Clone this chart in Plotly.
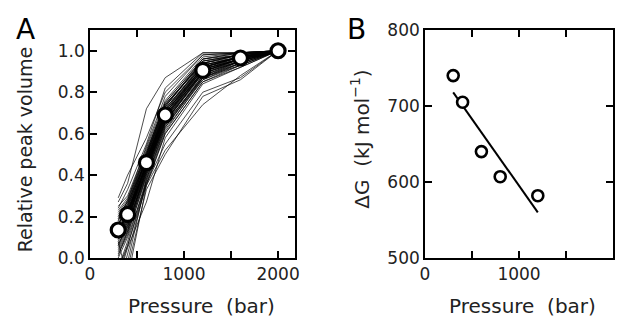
import plotly.graph_objects as go

# ---------------- data ----------------
# Panel A: pressure (bar) grid of the individual traces
pressure_grid = [300, 400, 600, 800, 1200, 1600, 2000]

# individual peak-volume traces
traces_A = [
    [0.13, 0.21, 0.46, 0.69, 0.91, 0.97, 1.0],
    [0.10, 0.18, 0.43, 0.66, 0.89, 0.96, 1.0],
    [0.16, 0.24, 0.49, 0.72, 0.93, 0.97, 1.0],
    [0.05, 0.14, 0.40, 0.64, 0.88, 0.95, 1.0],
    [0.20, 0.27, 0.52, 0.74, 0.95, 0.98, 1.0],
    [-0.05, 0.08, 0.38, 0.62, 0.86, 0.94, 1.0],
    [0.18, 0.25, 0.48, 0.70, 0.92, 0.97, 1.0],
    [0.12, 0.20, 0.44, 0.67, 0.90, 0.96, 1.0],
    [0.08, 0.17, 0.42, 0.65, 0.87, 0.95, 1.0],
    [0.22, 0.28, 0.50, 0.73, 0.96, 0.99, 1.0],
    [0.14, 0.22, 0.47, 0.71, 0.94, 0.98, 1.0],
    [-0.15, 0.02, 0.36, 0.60, 0.85, 0.93, 1.0],
    [0.25, 0.30, 0.53, 0.76, 0.97, 0.99, 1.0],
    [0.11, 0.19, 0.45, 0.68, 0.90, 0.96, 1.0],
    [0.03, 0.12, 0.39, 0.63, 0.88, 0.94, 1.0],
    [0.17, 0.23, 0.48, 0.72, 0.93, 0.97, 1.0],
    [0.09, 0.16, 0.41, 0.66, 0.89, 0.95, 1.0],
    [0.15, 0.22, 0.45, 0.70, 0.92, 0.96, 1.0],
    [0.07, 0.15, 0.42, 0.67, 0.91, 0.96, 1.0],
    [0.19, 0.26, 0.50, 0.74, 0.94, 0.98, 1.0],
    [0.02, 0.11, 0.40, 0.65, 0.90, 0.95, 1.0],
    [0.21, 0.27, 0.47, 0.69, 0.89, 0.95, 1.0],
    [0.12, 0.19, 0.43, 0.68, 0.92, 0.97, 1.0],
    [0.06, 0.15, 0.44, 0.70, 0.93, 0.97, 1.0],
    [0.14, 0.21, 0.49, 0.73, 0.95, 0.98, 1.0],
    [-0.08, 0.06, 0.37, 0.61, 0.87, 0.94, 1.0],
    [0.23, 0.29, 0.51, 0.75, 0.96, 0.99, 1.0],
    [0.10, 0.17, 0.46, 0.71, 0.93, 0.97, 1.0],
    [0.16, 0.23, 0.44, 0.66, 0.88, 0.95, 1.0],
    [0.04, 0.13, 0.41, 0.64, 0.86, 0.93, 1.0],
    [0.27, 0.36, 0.72, 0.87, 0.99, 0.99, 1.0],
    [0.29, 0.40, 0.58, 0.80, 0.98, 0.99, 1.0],
    [-0.20, -0.05, 0.33, 0.50, 0.78, 0.86, 1.0],
    [0.00, 0.10, 0.36, 0.55, 0.80, 0.87, 1.0],
    [-0.10, 0.05, 0.27, 0.58, 0.84, 0.92, 1.0],
    [-0.05, 0.06, 0.35, 0.52, 0.74, 0.88, 1.0],
    [0.24, 0.33, 0.55, 0.82, 0.99, 0.99, 1.0],
    [-0.30, -0.02, 0.38, 0.63, 0.87, 0.93, 1.0],
    [0.08, -0.10, 0.35, 0.60, 0.85, 0.92, 1.0],
    [0.18, 0.28, 0.54, 0.78, 0.98, 0.99, 1.0],
    [0.13, 0.20, 0.47, 0.70, 0.91, 0.96, 1.0],
    [0.11, 0.21, 0.45, 0.69, 0.92, 0.97, 1.0],
    [0.15, 0.19, 0.46, 0.68, 0.90, 0.96, 1.0],
    [0.09, 0.18, 0.44, 0.69, 0.91, 0.96, 1.0],
    [0.17, 0.22, 0.48, 0.71, 0.92, 0.97, 1.0],
    [0.12, 0.23, 0.47, 0.72, 0.94, 0.98, 1.0],
    [0.06, 0.16, 0.42, 0.66, 0.90, 0.96, 1.0],
    [0.14, 0.20, 0.45, 0.67, 0.89, 0.95, 1.0],
    [0.19, 0.24, 0.49, 0.73, 0.95, 0.98, 1.0],
    [0.10, 0.19, 0.46, 0.70, 0.92, 0.97, 1.0],
    [0.01, 0.13, 0.43, 0.68, 0.91, 0.96, 1.0],
    [0.20, 0.26, 0.51, 0.75, 0.96, 0.98, 1.0],
    [0.13, 0.22, 0.44, 0.65, 0.87, 0.94, 1.0],
    [0.16, 0.25, 0.50, 0.74, 0.94, 0.97, 1.0],
]

# Panel A mean points
mean_pressure = [300, 400, 600, 800, 1200, 1600, 2000]
mean_volume = [0.135, 0.21, 0.46, 0.69, 0.905, 0.965, 1.0]

# Panel B
dG_pressure = [300, 400, 600, 800, 1200]
dG_values = [740, 705, 640, 607, 582]
fit_pressure = [300, 1200]
fit_dG = [718, 560]

# ticks and tick labels
x_tickvals = [0, 1000, 2000]
x_ticktext = ["0", "1000", "2000"]
x_minor_tickvals = [500, 1500]
yA_tickvals = [0.0, 0.2, 0.4, 0.6, 0.8, 1.0]
yA_ticktext = ["0.0", "0.2", "0.4", "0.6", "0.8", "1.0"]
yB_tickvals = [500, 600, 700, 800]
yB_ticktext = ["500", "600", "700", "800"]

# ---------------- figure ----------------
FONT = "DejaVu Sans"
fig = go.Figure()

for tr in traces_A:
    fig.add_trace(go.Scatter(x=pressure_grid, y=tr, mode="lines",
                             line=dict(color="black", width=0.7),
                             xaxis="x", yaxis="y", showlegend=False,
                             hoverinfo="skip"))

fig.add_trace(go.Scatter(x=mean_pressure, y=mean_volume, mode="markers",
                         marker=dict(size=14, color="white",
                                     line=dict(color="black", width=3.2)),
                         xaxis="x", yaxis="y", showlegend=False, cliponaxis=False))

fig.add_trace(go.Scatter(x=fit_pressure, y=fit_dG, mode="lines",
                         line=dict(color="black", width=2),
                         xaxis="x2", yaxis="y2", showlegend=False))
fig.add_trace(go.Scatter(x=dG_pressure, y=dG_values, mode="markers",
                         marker=dict(size=11, color="white",
                                     line=dict(color="black", width=2.6)),
                         xaxis="x2", yaxis="y2", showlegend=False))

# the page body adds an 8 px offset; work in screen pixels and subtract it
OFF = 8
W, H = 634 - OFF, 320 - OFF
L, R, T, B = 90 - OFF, 21, 23 - OFF, 62
pw = W - L - R
ph = H - T - B

def axis_common():
    return dict(showline=True, linecolor="black", linewidth=1.6, mirror="allticks",
                ticks="inside", ticklen=7, tickwidth=1.6, tickcolor="black",
                showgrid=False, zeroline=False,
                tickfont=dict(family=FONT, size=17, color="#222"))

def px(x):
    return (x - OFF - L) / pw

def py(y):
    return (H - B - (y - OFF)) / ph

minor = dict(ticks="inside", tickmode="array", tickvals=x_minor_tickvals,
             ticklen=7, tickwidth=1.6, tickcolor="black", showgrid=False)

xa = axis_common()
xa.update(domain=[0, px(295)], range=[0, 2180], tickmode="array",
          tickvals=x_tickvals, ticktext=x_ticktext, anchor="y", minor=minor)
ya = axis_common()
ya.update(domain=[0, 1], range=[0, 1.1], tickmode="array",
          tickvals=yA_tickvals, ticktext=yA_ticktext, anchor="x")
xb = axis_common()
xb.update(domain=[px(425), 1], range=[0, 2000], tickmode="array",
          tickvals=x_tickvals, ticktext=x_ticktext, anchor="y2", minor=minor)
yb = axis_common()
yb.update(domain=[0, 1], range=[500, 800], tickmode="array",
          tickvals=yB_tickvals, ticktext=yB_ticktext, anchor="x2")

ann_font = dict(family=FONT, size=20, color="#222")
annotations = [
    dict(text="Relative peak volume", x=px(25), y=py(147), textangle=-90,
         xref="paper", yref="paper", showarrow=False,
         font=dict(family=FONT, size=19, color="#222"),
         xanchor="center", yanchor="middle"),
    dict(text="Pressure  (bar)", x=px(201.5), y=py(307),
         xref="paper", yref="paper", showarrow=False, font=ann_font,
         xanchor="center", yanchor="middle"),
    dict(text="Pressure  (bar)", x=px(522.5), y=py(307),
         xref="paper", yref="paper", showarrow=False, font=ann_font,
         xanchor="center", yanchor="middle"),
    dict(text="ΔG  (kJ mol<sup>−1</sup>)", x=px(360), y=py(136), textangle=-90,
         xref="paper", yref="paper", showarrow=False, font=ann_font,
         xanchor="center", yanchor="middle"),
    dict(text="A", x=px(25), y=py(22), xref="paper", yref="paper",
         showarrow=False, font=dict(family=FONT, size=28, color="black"),
         xanchor="center", yanchor="middle"),
    dict(text="B", x=px(356), y=py(22), xref="paper", yref="paper",
         showarrow=False, font=dict(family=FONT, size=28, color="black"),
         xanchor="center", yanchor="middle"),
]

fig.update_layout(width=W, height=H, margin=dict(l=L, r=R, t=T, b=B),
                  paper_bgcolor="white", plot_bgcolor="white",
                  xaxis=xa, yaxis=ya, xaxis2=xb, yaxis2=yb,
                  annotations=annotations, showlegend=False)

fig.write_html("out.html")
